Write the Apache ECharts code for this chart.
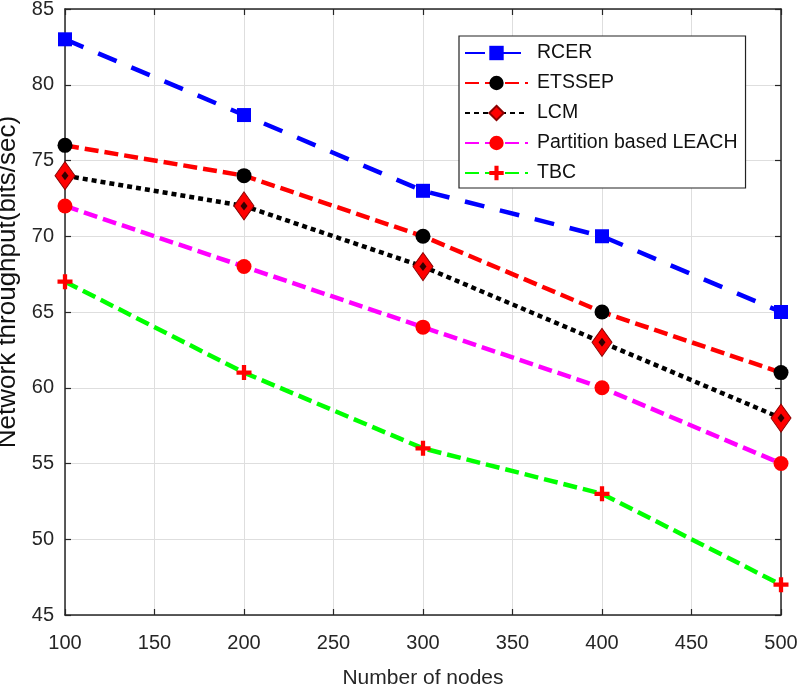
<!DOCTYPE html>
<html>
<head>
<meta charset="utf-8">
<script src="https://cdn.jsdelivr.net/npm/echarts@6/dist/echarts.min.js"></script>
<style>html,body{margin:0;padding:0;background:#fff;}#c{width:800px;height:688px;}</style>
</head>
<body>
<div id="c"></div>
<script>
const nodes = [100, 200, 300, 400, 500];
const rcer = [83, 78, 73, 70, 65];
const etssep = [76, 74, 70, 65, 61];
const lcm = [74, 72, 68, 63, 58];
const leach = [72, 68, 64, 60, 55];
const tbc = [67, 61, 56, 53, 47];
const seriesNames = ['RCER', 'ETSSEP', 'LCM', 'Partition based LEACH', 'TBC'];
const xTitle = 'Number of nodes';
const yTitle = 'Network throughput(bits/sec)';

const pair = arr => nodes.map((x, i) => [x, arr[i]]);
const FONT = 'Liberation Sans, Arial, Helvetica, sans-serif';
const AX = '#262626';
const plusPath = 'path://M5,0H9V5H14V9H9V14H5V9H0V5H5Z';

const chart = echarts.init(document.getElementById('c'));
const axisCommon = {
  axisLine: {show: true, lineStyle: {color: AX, width: 1.5}},
  axisTick: {show: true, inside: true, length: 6, lineStyle: {color: AX, width: 1.2}}
};
chart.setOption({
  animation: false,
  backgroundColor: '#fff',
  grid: {left: 65, right: 19, top: 9, bottom: 73, containLabel: false, outerBoundsMode: 'none'},
  legend: {
    data: seriesNames,
    orient: 'vertical',
    left: 459, top: 36,
    backgroundColor: '#fff',
    borderColor: '#222', borderWidth: 1.2, borderRadius: 0,
    padding: [7, 8, 5, 5],
    itemWidth: 63, itemHeight: 18, itemGap: 10,
    textStyle: {fontFamily: FONT, fontSize: 19.5, color: '#111', lineHeight: 20, padding: [0, 0, 0, 4]}
  },
  xAxis: [{
    type: 'value', min: 100, max: 500, interval: 50, position: 'bottom',
    name: xTitle, nameLocation: 'middle', nameGap: 53,
    nameTextStyle: {fontFamily: FONT, fontSize: 21, color: AX},
    axisLabel: {fontFamily: FONT, fontSize: 20, color: AX, margin: 18},
    splitLine: {show: true, lineStyle: {color: '#dedede', width: 1}},
    ...axisCommon
  }, {
    type: 'value', min: 100, max: 500, interval: 50, position: 'top',
    axisLabel: {show: false}, splitLine: {show: false},
    ...axisCommon
  }],
  yAxis: [{
    type: 'value', min: 45, max: 85, interval: 5, position: 'left',
    name: yTitle, nameLocation: 'middle', nameGap: 32,
    nameTextStyle: {fontFamily: FONT, fontSize: 26, color: '#111', padding: [0, 0, 0, 60]},
    axisLabel: {fontFamily: FONT, fontSize: 20, color: AX, margin: 11},
    splitLine: {show: true, lineStyle: {color: '#dedede', width: 1}},
    ...axisCommon
  }, {
    type: 'value', min: 45, max: 85, interval: 5, position: 'right',
    axisLabel: {show: false}, splitLine: {show: false},
    ...axisCommon
  }],
  series: [
    {
      name: 'RCER', type: 'line', data: pair(rcer), z: 2,
      lineStyle: {color: '#0000ff', width: 4.5, type: [20, 16]},
      symbol: 'rect', symbolSize: 14,
      itemStyle: {color: '#0000ff', borderWidth: 0}
    },
    {
      name: 'ETSSEP', type: 'line', data: pair(etssep), z: 3,
      lineStyle: {color: '#ff0000', width: 4.5, type: [14, 6]},
      symbol: 'circle', symbolSize: 15,
      itemStyle: {color: '#000', borderWidth: 0}
    },
    {
      name: 'LCM', type: 'line', data: pair(lcm), z: 4,
      lineStyle: {color: '#000', width: 4.5, type: [5, 4]},
      symbol: 'diamond', symbolSize: [20, 28],
      itemStyle: {color: '#ff0000', borderColor: '#8b0000', borderWidth: 1}
    },
    {
      name: 'LCM-dot', type: 'scatter', data: pair(lcm), z: 5,
      symbol: 'diamond', symbolSize: [7, 9], silent: true,
      itemStyle: {color: '#000'}
    },
    {
      name: 'Partition based LEACH', type: 'line', data: pair(leach), z: 6,
      lineStyle: {color: '#ff00ff', width: 4.5, type: [14, 6]},
      symbol: 'circle', symbolSize: 15,
      itemStyle: {color: '#ff0000', borderWidth: 0}
    },
    {
      name: 'TBC', type: 'line', data: pair(tbc), z: 7,
      lineStyle: {color: '#00ff00', width: 4.5, type: [14, 6]},
      symbol: plusPath, symbolSize: 15,
      itemStyle: {color: '#ff0000', borderWidth: 0}
    }
  ]
});
</script>
</body>
</html>
